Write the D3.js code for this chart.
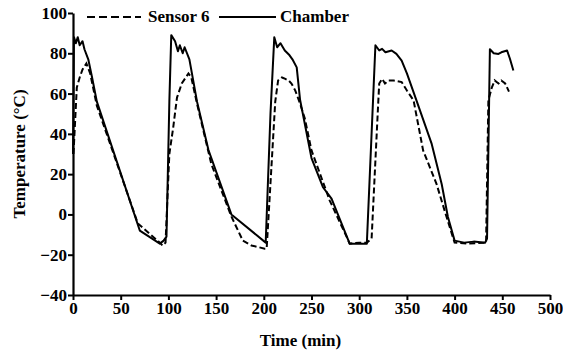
<!DOCTYPE html>
<html>
<head>
<meta charset="utf-8">
<script src="https://cdn.jsdelivr.net/npm/d3@7"></script>
<style>
  body { margin: 0; background: #fff; }
  text { font-family: "Liberation Serif", "Times New Roman", "DejaVu Serif", serif !important; font-weight: bold; fill: #000; }
</style>
</head>
<body>
<svg id="chart" width="563" height="356"></svg>
<script>
// =============================================================================
// DATA
// =============================================================================

// Chamber: [time (min), temperature (°C)]
const chamber = [
  [0, 30], [1, 88], [3, 85], [5, 88], [7, 84], [10, 86], [12, 82], [16, 77], [20, 68],
  [25, 56], [70, -8], [91, -14.5], [95, -13], [98, -11], [101, 56], [103, 89],
  [107, 86], [110, 81], [112, 84], [115, 80], [117, 83], [122, 77], [130, 56],
  [142, 32], [166, 0], [202, -14], [207, 50], [211, 88], [214, 83], [217.5, 85],
  [222, 81.4], [227, 79], [230, 77], [234.5, 73], [238, 57], [250, 28], [262, 13.5],
  [271, 7.8], [290, -14.5], [308, -14.5], [317, 84], [321, 81.4], [324, 82.2],
  [327.5, 80.5], [334, 81.4], [339, 79.7], [344.5, 76.4], [350, 70], [360, 56.6],
  [376, 35], [386.5, 15], [393, -1.3], [400, -13], [410, -14], [420, -13.5],
  [432, -14], [434, -12], [437, 82], [441, 80], [446, 79.7], [449, 80.5],
  [455, 81.4], [458, 77.3], [461.6, 71.5]
];

// Sensor 6: [time (min), temperature (°C)]
const sensor6 = [
  [0.5, 30], [4, 63], [7, 68], [10, 72], [14, 75], [18, 70], [25, 54], [68, -4.5],
  [91, -14], [94, -15.5], [97, -14], [101, 30], [105, 43], [109, 58], [114, 65],
  [121, 70], [124, 68], [130, 55], [145, 25], [166, -1], [178, -13], [187, -15.4],
  [201, -17], [203, -17], [212, 56], [215, 66.5], [219, 68], [222, 67.4],
  [226, 66.5], [229, 65], [233, 61.5], [238, 55], [243, 47.6], [250, 31.8],
  [269, 7], [287, -11.3], [290, -14.5], [300, -14], [308, -14], [313, -12],
  [320, 56], [321, 65], [324, 67.3], [327, 65], [330.5, 66.5], [336, 66.5],
  [344.5, 65.7], [350, 61.5], [357, 56.6], [367, 31.8], [381, 15.2], [391.6, -1.3],
  [400, -14], [415, -14.5], [433, -14], [435.4, 56.6], [439, 63], [442, 66.5],
  [446, 65], [449, 66.5], [453, 65], [457, 61]
];

const xTicks = [0, 50, 100, 150, 200, 250, 300, 350, 400, 450, 500];
const yTicks = [-40, -20, 0, 20, 40, 60, 80, 100];

// =============================================================================
// LAYOUT
// =============================================================================

const margin = { top: 13, right: 13, bottom: 61, left: 73 };
const width = 563 - margin.left - margin.right;
const height = 356 - margin.top - margin.bottom;
const fontSize = '17px';

const svg = d3.select('#chart');
const g = svg.append('g').attr('transform', `translate(${margin.left},${margin.top})`);

const x = d3.scaleLinear().domain([0, 500]).range([0, width]);
const y = d3.scaleLinear().domain([-40, 100]).range([height, 0]);

// Axes
const xAxis = g.append('g')
  .attr('transform', `translate(0,${height})`)
  .call(d3.axisBottom(x).tickValues(xTicks).tickSize(5).tickPadding(2).tickSizeOuter(0));

const yAxis = g.append('g')
  .call(d3.axisLeft(y).tickValues(yTicks).tickSize(5).tickPadding(1).tickSizeOuter(0));

[xAxis, yAxis].forEach(ax => {
  ax.attr('font-family', null).attr('font-size', null);
  ax.select('.domain').attr('stroke', '#000').attr('stroke-width', 2.2);
  ax.selectAll('.tick line').attr('stroke', '#000').attr('stroke-width', 2);
  ax.selectAll('.tick text').style('font-size', fontSize);
});

// Lines
const line = d3.line().x(d => x(d[0])).y(d => y(d[1]));

g.append('path')
  .datum(chamber)
  .attr('fill', 'none')
  .attr('stroke', '#000')
  .attr('stroke-width', 2)
  .attr('stroke-linejoin', 'round')
  .attr('d', line);

g.append('path')
  .datum(sensor6)
  .attr('fill', 'none')
  .attr('stroke', '#000')
  .attr('stroke-width', 2)
  .attr('stroke-dasharray', '6,3')
  .attr('d', line);

// Axis labels
svg.append('text')
  .attr('x', margin.left + x(250) - 11)
  .attr('y', 346)
  .attr('text-anchor', 'middle')
  .style('font-size', fontSize)
  .text('Time (min)');

svg.append('text')
  .attr('transform', `translate(25,${margin.top + y(30)}) rotate(-90)`)
  .attr('text-anchor', 'middle')
  .style('font-size', fontSize)
  .text('Temperature (°C)');

// Legend
const legend = svg.append('g').attr('transform', 'translate(0,17)');
legend.append('line')
  .attr('x1', 87).attr('x2', 141).attr('y1', 0).attr('y2', 0)
  .attr('stroke', '#000').attr('stroke-width', 2).attr('stroke-dasharray', '8,4');
legend.append('text').attr('x', 148).attr('y', 5).style('font-size', fontSize).text('Sensor 6');
legend.append('line')
  .attr('x1', 219).attr('x2', 276).attr('y1', 0).attr('y2', 0)
  .attr('stroke', '#000').attr('stroke-width', 2);
legend.append('text').attr('x', 280).attr('y', 5).style('font-size', fontSize).text('Chamber');
</script>
</body>
</html>
